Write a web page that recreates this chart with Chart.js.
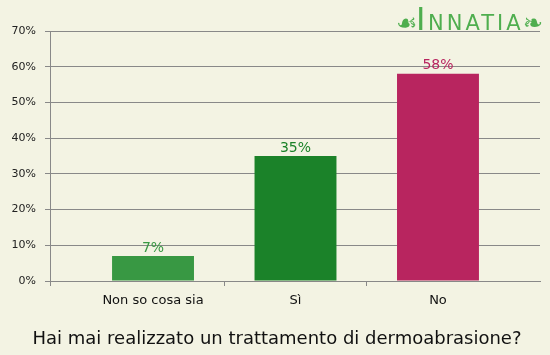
<!DOCTYPE html>
<html>
<head>
<meta charset="utf-8">
<script src="https://cdn.jsdelivr.net/npm/chart.js@4/dist/chart.umd.min.js"></script>
<style>
html,body{margin:0;padding:0;background:#f3f3e3;}
#wrap{width:550px;height:355px;position:relative;}
</style>
</head>
<body>
<div id="wrap"><canvas id="c" width="550" height="355"></canvas></div>
<script>
const categories = ['Non so cosa sia', 'Sì', 'No'];
const values = [7, 35, 58];
const barColors = ['#389843', '#1b8229', '#b8255f'];
const yTicks = [0, 10, 20, 30, 40, 50, 60, 70];
const titleText = 'Hai mai realizzato un trattamento di dermoabrasione?';
const FONT = "'DejaVu Sans', Verdana, sans-serif";

const bgPlugin = {
  id: 'bg',
  beforeDraw(chart) {
    const ctx = chart.ctx;
    ctx.save();
    ctx.fillStyle = '#f3f3e3';
    ctx.fillRect(0, 0, chart.width, chart.height);
    ctx.restore();
  }
};

const extrasPlugin = {
  id: 'extras',
  afterDraw(chart) {
    const ctx = chart.ctx;
    const area = chart.chartArea;
    ctx.save();
    // small tick below the y axis at the left end of the x axis
    ctx.strokeStyle = '#888888';
    ctx.lineWidth = 1;
    ctx.beginPath();
    ctx.moveTo(Math.round(area.left) + 0.5, area.bottom);
    ctx.lineTo(Math.round(area.left) + 0.5, area.bottom + 5);
    ctx.stroke();
    // value labels
    const meta = chart.getDatasetMeta(0);
    ctx.font = '14px ' + FONT;
    ctx.textAlign = 'center';
    ctx.textBaseline = 'bottom';
    meta.data.forEach((bar, i) => {
      ctx.fillStyle = barColors[i];
      ctx.fillText(values[i] + '%', bar.x, bar.y - 1);
    });
    // title
    ctx.fillStyle = '#111111';
    ctx.font = '18px ' + FONT;
    ctx.textBaseline = 'middle';
    ctx.fillText(titleText, 277, 339);
    // logo
    ctx.fillStyle = '#4fae4f';
    ctx.textBaseline = 'alphabetic';
    ctx.textAlign = 'left';
    ctx.font = '24px ' + FONT;
    ctx.fillText('\u2619', 396, 31);
    ctx.font = '32px ' + FONT;
    ctx.fillText('I', 416, 30);
    ctx.font = '21px ' + FONT;
    ctx.letterSpacing = '3px';
    ctx.fillText('NNATIA', 428, 30);
    ctx.letterSpacing = '0px';
    ctx.font = '24px ' + FONT;
    ctx.fillText('\u2767', 523, 31);
    ctx.restore();
  }
};

new Chart(document.getElementById('c'), {
  type: 'bar',
  data: {
    datasets: [{
      data: values.map((v, i) => ({ x: i, y: v })),
      backgroundColor: barColors,
      borderWidth: 0,
      barPercentage: 0.575,
      categoryPercentage: 1
    }]
  },
  options: {
    responsive: false,
    animation: false,
    devicePixelRatio: 1,
    layout: { padding: { top: 31, right: 10, left: 0, bottom: 44 } },
    plugins: {
      legend: { display: false },
      tooltip: { enabled: false },
      title: { display: false }
    },
    scales: {
      x: {
        type: 'linear',
        offset: false,
        min: -0.723,
        max: 2.716,
        afterBuildTicks(scale) {
          scale.ticks = categories.map((_, i) => ({ value: i }));
        },
        afterFit(scale) { scale.height = 30; },
        ticks: {
          autoSkip: false,
          maxRotation: 0,
          padding: 7,
          color: '#111111',
          font: { family: FONT, size: 13 },
          callback: (v) => categories[v]
        },
        grid: {
          offset: true,
          drawOnChartArea: false,
          tickLength: 5,
          tickColor: (ctx) => (ctx.index === 1 || ctx.index === 2) ? '#888888' : 'rgba(0,0,0,0)'
        },
        border: { display: true, color: '#888888' }
      },
      y: {
        min: 0,
        max: 70,
        afterBuildTicks(scale) {
          scale.ticks = yTicks.map(v => ({ value: v }));
        },
        afterFit(scale) { scale.width = 50; },
        ticks: {
          padding: 9,
          color: '#222222',
          font: { family: FONT, size: 11 },
          callback: (v) => v + '%'
        },
        grid: { color: '#888888', tickLength: 5 },
        border: { display: true, color: '#888888' }
      }
    }
  },
  plugins: [bgPlugin, extrasPlugin]
});
</script>
</body>
</html>
